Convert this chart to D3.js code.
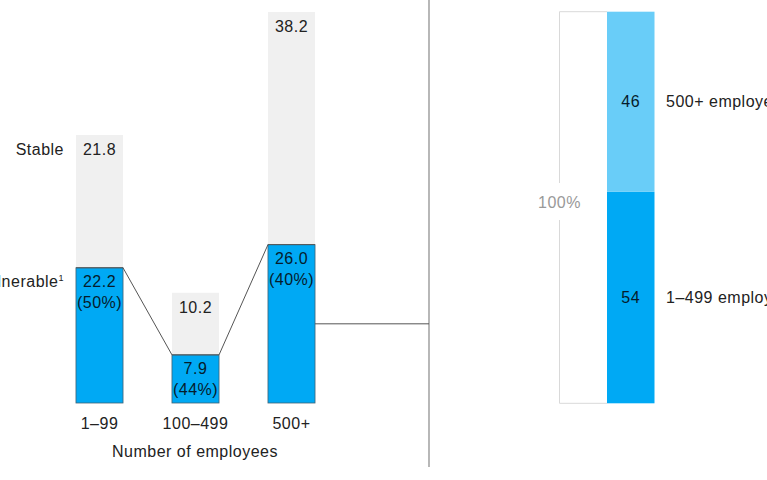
<!DOCTYPE html>
<html>
<head>
<meta charset="utf-8">
<script src="https://cdn.jsdelivr.net/npm/d3@7"></script>
<style>
  body { margin: 0; background: #fff; }
  svg { display: block; font-family: "Liberation Sans", Arial, sans-serif; letter-spacing: 0.5px; }
</style>
</head>
<body>
<svg id="target"></svg>
<script>
const categories = ["1–99", "100–499", "500+"];
const vulnerable = [22.2, 7.9, 26.0];
const stable = [21.8, 10.2, 38.2];
const vulnerableShare = ["(50%)", "(44%)", "(40%)"];

const segments = ["1–499 employees", "500+ employees"];
const segmentValues = [54, 46];

const width = 767;
const height = 480;
const colors = {
  blue: '#00a9f4',
  lightBlue: '#69cdf8',
  gray: '#f0f0f0',
  navy: '#051c2c',
  text: '#222',
  rule: '#888'
};

const svg = d3.select('#target')
  .attr('width', width)
  .attr('height', height);

// left: stacked bars by company size
const x = d3.scaleBand()
    .domain(categories)
    .range([51.5, 339.5])
    .paddingInner(0.51)
    .paddingOuter(0.255);

const y = d3.scaleLinear()
    .domain([0, 64.2])
    .range([403, 12]);

const rows = categories.map((c, i) => ({
  cat: c, vul: vulnerable[i], stb: stable[i], share: vulnerableShare[i]
}));

const bar = svg.selectAll(".bar")
    .data(rows)
    .enter().append("g")
      .attr("class", "bar")
      .attr("transform", d => "translate(" + x(d.cat) + ",0)");

bar.append("rect")
      .attr("y", d => y(d.vul + d.stb))
      .attr("width", x.bandwidth())
      .attr("height", d => y(d.vul) - y(d.vul + d.stb))
      .attr("fill", colors.gray);

bar.append("rect")
      .attr("y", d => y(d.vul))
      .attr("width", x.bandwidth())
      .attr("height", d => y(0) - y(d.vul))
      .attr("fill", colors.blue)
      .attr("stroke", "#3f6173")
      .attr("stroke-width", 0.8);

bar.append("text")
      .attr("x", x.bandwidth() / 2)
      .attr("y", d => y(d.vul + d.stb) + 20)
      .attr("text-anchor", "middle")
      .attr("font-size", 16)
      .attr("fill", colors.text)
      .text(d => d.stb.toFixed(1));

bar.append("text")
      .attr("x", x.bandwidth() / 2)
      .attr("y", d => y(d.vul) + 19)
      .attr("text-anchor", "middle")
      .attr("font-size", 16)
      .attr("fill", colors.navy)
      .text(d => d.vul.toFixed(1));

bar.append("text")
      .attr("x", x.bandwidth() / 2)
      .attr("y", d => y(d.vul) + 40)
      .attr("text-anchor", "middle")
      .attr("font-size", 16)
      .attr("fill", colors.navy)
      .text(d => d.share);

// connector across the tops of the vulnerable bars
const pts = [];
rows.forEach(d => {
  pts.push([x(d.cat), y(d.vul)]);
  pts.push([x(d.cat) + x.bandwidth(), y(d.vul)]);
});
svg.append("path")
    .attr("d", d3.line()(pts))
    .attr("fill", "none")
    .attr("stroke", "#555")
    .attr("stroke-width", 1);

// row labels
const first = rows[0];
svg.append("text")
    .attr("x", 64)
    .attr("y", y(first.vul + first.stb) + 20)
    .attr("text-anchor", "end")
    .attr("font-size", 16)
    .attr("fill", colors.text)
    .text("Stable");

const vLabel = svg.append("text")
    .attr("x", 64)
    .attr("y", y(first.vul) + 19)
    .attr("text-anchor", "end")
    .attr("font-size", 16)
    .attr("fill", colors.text)
    .text("Vulnerable");
vLabel.append("tspan")
    .attr("font-size", 9)
    .attr("dy", -6)
    .text("1");

// x axis labels
svg.selectAll(".xlabel")
    .data(categories)
    .enter().append("text")
      .attr("class", "xlabel")
      .attr("x", d => x(d) + x.bandwidth() / 2)
      .attr("y", 429)
      .attr("text-anchor", "middle")
      .attr("font-size", 16)
      .attr("fill", colors.text)
      .text(d => d);

svg.append("text")
    .attr("x", 195)
    .attr("y", 457)
    .attr("text-anchor", "middle")
    .attr("font-size", 16)
    .attr("fill", colors.text)
    .text("Number of employees");

// separator and link to the right panel
const sepX = 429;
svg.append("line")
    .attr("x1", sepX).attr("x2", sepX)
    .attr("y1", 0).attr("y2", 467)
    .attr("stroke", colors.rule)
    .attr("stroke-width", 1.2);

const big = rows[2];
svg.append("line")
    .attr("x1", x(big.cat) + x.bandwidth()).attr("x2", sepX)
    .attr("y1", y(big.vul / 2)).attr("y2", y(big.vul / 2))
    .attr("stroke", "#555")
    .attr("stroke-width", 1);

// right: 100% stacked share bar
const y2 = d3.scaleLinear()
    .domain([0, 100])
    .range([403.3, 11.7]);

const barX = 607;
const barW = 47.5;
const bracketX = 559.5;

let acc = 0;
const stack = segments.map((s, i) => {
  const seg = { name: s, value: segmentValues[i], y0: acc, y1: acc + segmentValues[i] };
  acc += segmentValues[i];
  return seg;
});

const seg = svg.selectAll(".seg")
    .data(stack)
    .enter().append("g")
      .attr("class", "seg");

seg.append("rect")
      .attr("x", barX)
      .attr("y", d => y2(d.y1))
      .attr("width", barW)
      .attr("height", d => y2(d.y0) - y2(d.y1))
      .attr("fill", (d, i) => i === 0 ? colors.blue : colors.lightBlue);

seg.append("text")
      .attr("x", barX + barW / 2)
      .attr("y", d => y2((d.y0 + d.y1) / 2) + 5.5)
      .attr("text-anchor", "middle")
      .attr("font-size", 16)
      .attr("fill", colors.navy)
      .text(d => d.value);

seg.append("text")
      .attr("x", 666)
      .attr("y", d => y2((d.y0 + d.y1) / 2) + 5.5)
      .attr("font-size", 16)
      .attr("fill", colors.text)
      .text(d => d.name);

// 100% bracket
const bTop = y2(100), bBot = y2(0);
svg.append("path")
    .attr("d", d3.line()([[barX, bTop], [bracketX, bTop], [bracketX, 183]]) + d3.line()([[bracketX, 220], [bracketX, bBot], [barX, bBot]]))
    .attr("fill", "none")
    .attr("stroke", "#d9d9d9")
    .attr("stroke-width", 1);

svg.append("text")
    .attr("x", bracketX)
    .attr("y", 207.5)
    .attr("text-anchor", "middle")
    .attr("font-size", 16)
    .attr("fill", "#999")
    .text("100%");
</script>
</body>
</html>
